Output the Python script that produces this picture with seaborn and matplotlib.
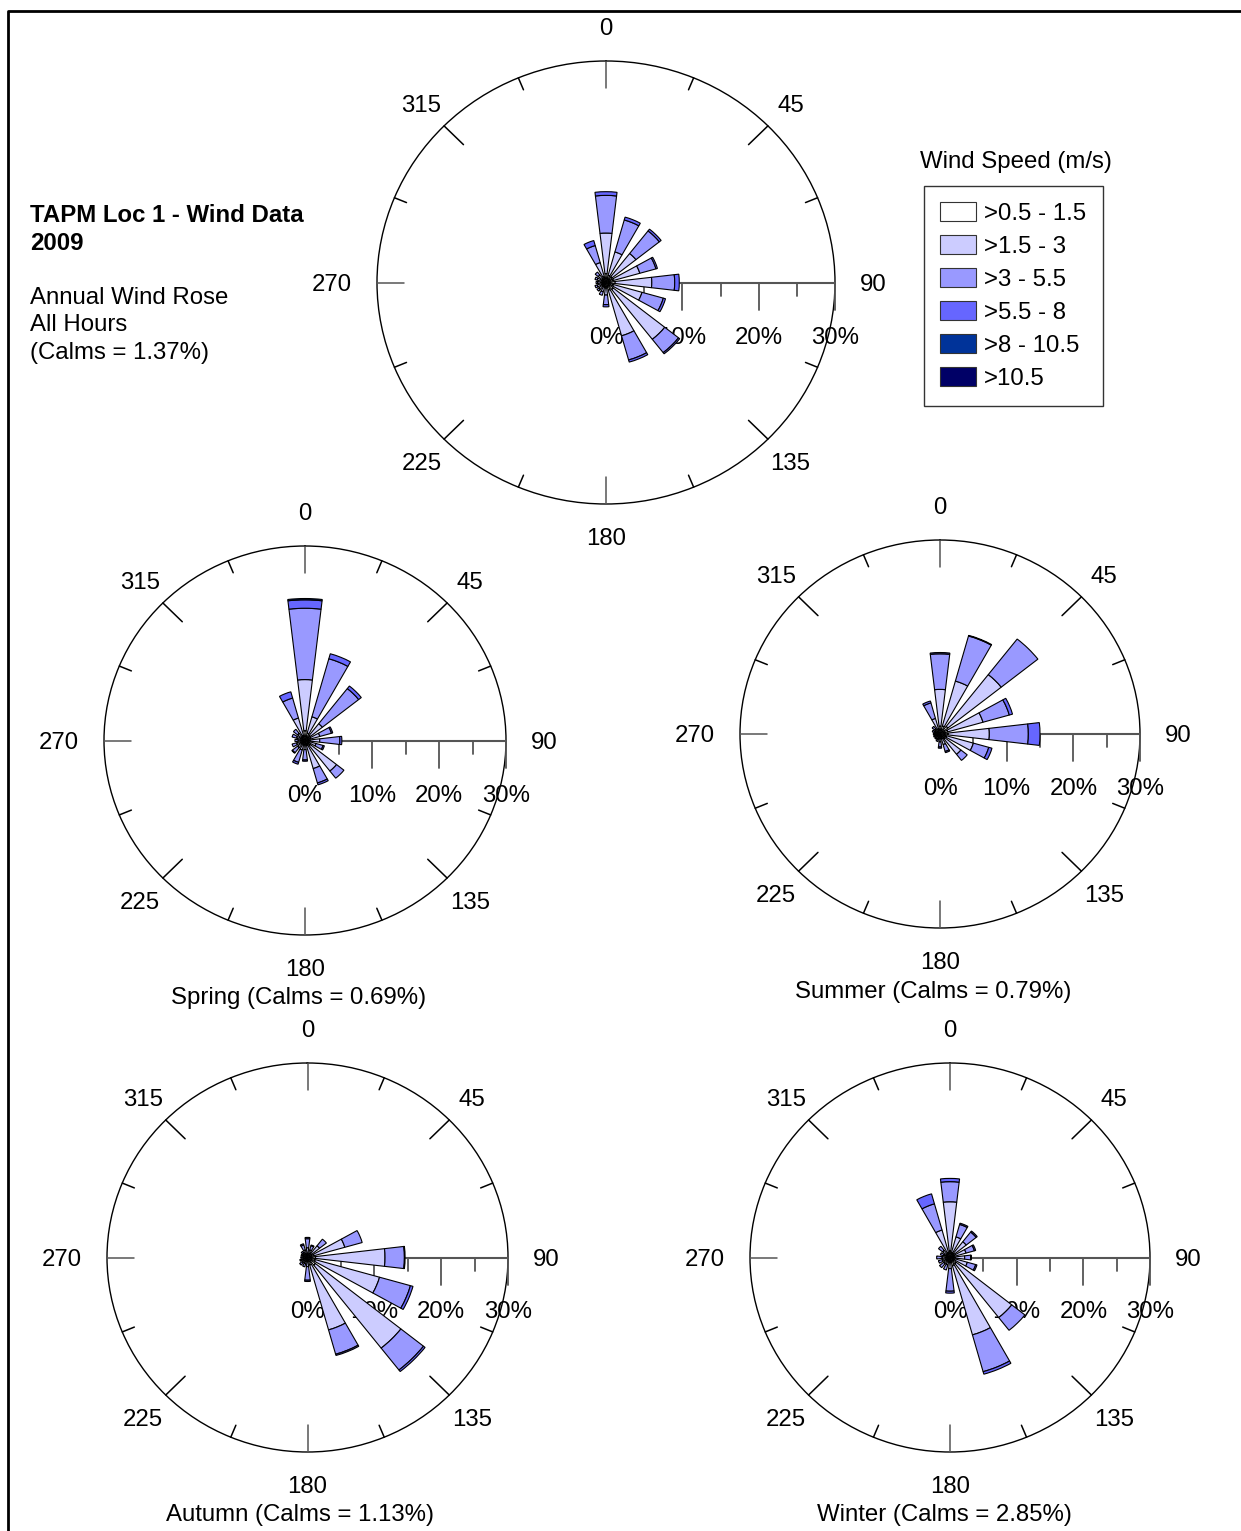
import numpy as np
import matplotlib
matplotlib.use("Agg")
import matplotlib.pyplot as plt
import seaborn as sns
from matplotlib.patches import Patch
from matplotlib.lines import Line2D

sns.set_theme(style="white")
plt.rcParams["font.family"] = ["Liberation Sans", "DejaVu Sans"]
plt.rcParams["text.color"] = "black"

W, H, DPI = 1241, 1531, 100
FS = 17.3

# ---------------- data ----------------
directions = [0, 22.5, 45, 67.5, 90, 112.5, 135, 157.5,
              180, 202.5, 225, 247.5, 270, 292.5, 315, 337.5]
speed_labels = [">0.5 - 1.5", ">1.5 - 3", ">3 - 5.5", ">5.5 - 8", ">8 - 10.5", ">10.5"]
speed_colors = ["#FFFFFF", "#CCCCFF", "#9999FF", "#6666FF", "#003399", "#000066"]
dir_labels = ["0", "45", "90", "135", "180", "225", "270", "315"]
scale_ticks = [0, 10, 20, 30]

# frequency (%) per direction, columns = speed classes
annual = [
    [1.2, 5.5, 5.1, 0.5, 0, 0],
    [1.0, 3.3, 4.5, 0.4, 0, 0],
    [1.0, 4.0, 3.9, 0.3, 0, 0],
    [1.0, 3.6, 2.2, 0.2, 0, 0],
    [1.2, 4.8, 3.0, 0.6, 0, 0],
    [1.0, 3.9, 2.9, 0.3, 0, 0],
    [1.2, 8.6, 2.3, 0.2, 0, 0],
    [1.1, 6.4, 3.4, 0.3, 0, 0],
    [0.7, 1.0, 1.3, 0.3, 0, 0],
    [0.6, 0.7, 0.5, 0.0, 0, 0],
    [0.6, 0.6, 0.3, 0.0, 0, 0],
    [0.6, 0.6, 0.3, 0.0, 0, 0],
    [0.6, 0.5, 0.2, 0.0, 0, 0],
    [0.6, 0.6, 0.3, 0.0, 0, 0],
    [0.6, 0.7, 0.5, 0.0, 0, 0],
    [0.8, 2.0, 2.4, 0.7, 0, 0],
]
spring = [
    [1.5, 7.9, 11.0, 1.3, 0.2, 0],
    [1.2, 2.6, 9.3, 0.8, 0, 0],
    [1.0, 2.3, 6.9, 0.5, 0, 0],
    [0.8, 1.5, 1.8, 0.2, 0, 0],
    [0.8, 1.4, 3.0, 0.3, 0, 0],
    [0.7, 1.0, 1.1, 0.2, 0, 0],
    [1.0, 5.0, 1.4, 0.0, 0, 0],
    [0.8, 3.7, 2.3, 0.3, 0, 0],
    [0.6, 0.8, 1.6, 0.2, 0, 0],
    [0.6, 0.9, 2.0, 0.3, 0, 0],
    [0.6, 0.8, 1.0, 0.1, 0, 0],
    [0.6, 0.7, 0.7, 0.0, 0, 0],
    [0.5, 0.5, 0.5, 0.0, 0, 0],
    [0.6, 0.7, 0.7, 0.0, 0, 0],
    [0.6, 0.8, 0.8, 0.0, 0, 0],
    [0.8, 2.8, 3.2, 1.0, 0, 0],
]
summer = [
    [1.2, 5.7, 5.5, 0.2, 0, 0],
    [1.3, 7.2, 7.25, 0.1, 0, 0],
    [1.5, 10.2, 7.0, 0.0, 0, 0],
    [1.2, 5.5, 4.1, 0.5, 0, 0],
    [1.2, 6.2, 5.85, 1.75, 0, 0],
    [1.0, 4.2, 2.4, 0.5, 0, 0],
    [0.9, 3.1, 1.2, 0.0, 0, 0],
    [0.7, 1.0, 1.1, 0.2, 0, 0],
    [0.6, 0.6, 0.8, 0.2, 0, 0],
    [0.5, 0.4, 0.3, 0.0, 0, 0],
    [0.5, 0.3, 0.2, 0.0, 0, 0],
    [0.5, 0.3, 0.2, 0.0, 0, 0],
    [0.5, 0.3, 0.2, 0.0, 0, 0],
    [0.5, 0.4, 0.3, 0.0, 0, 0],
    [0.5, 0.5, 0.5, 0.0, 0, 0],
    [0.8, 1.7, 2.5, 0.3, 0, 0],
]
autumn = [
    [0.6, 0.9, 1.4, 0.2, 0, 0],
    [0.6, 0.6, 0.7, 0.1, 0, 0],
    [0.7, 1.6, 1.3, 0.0, 0, 0],
    [1.0, 4.8, 2.7, 0.0, 0, 0],
    [1.2, 10.4, 2.9, 0.1, 0, 0],
    [1.2, 10.0, 4.8, 0.4, 0, 0],
    [1.5, 16.3, 4.3, 0.3, 0, 0],
    [1.2, 10.4, 3.9, 0.2, 0, 0],
    [0.6, 0.8, 2.1, 0.2, 0, 0],
    [0.5, 0.5, 0.5, 0.0, 0, 0],
    [0.5, 0.5, 0.5, 0.0, 0, 0],
    [0.5, 0.4, 0.3, 0.0, 0, 0],
    [0.5, 0.3, 0.2, 0.0, 0, 0],
    [0.5, 0.3, 0.2, 0.0, 0, 0],
    [0.5, 0.4, 0.3, 0.0, 0, 0],
    [0.5, 0.7, 0.8, 0.2, 0, 0],
]
winter = [
    [1.0, 7.6, 3.1, 0.5, 0, 0],
    [0.8, 2.5, 2.0, 0.2, 0, 0],
    [0.8, 2.3, 1.9, 0.2, 0, 0],
    [0.7, 1.8, 1.3, 0.2, 0, 0],
    [0.7, 1.5, 0.9, 0.1, 0, 0],
    [0.7, 2.0, 1.3, 0.2, 0, 0],
    [1.2, 10.6, 2.5, 0.0, 0, 0],
    [1.3, 11.1, 5.9, 0.4, 0, 0],
    [0.7, 1.0, 3.5, 0.3, 0, 0],
    [0.6, 0.6, 0.8, 0.0, 0, 0],
    [0.6, 0.6, 0.8, 0.0, 0, 0],
    [0.6, 0.6, 0.6, 0.0, 0, 0],
    [0.6, 0.6, 0.8, 0.0, 0, 0],
    [0.5, 0.5, 0.5, 0.0, 0, 0],
    [0.6, 0.8, 0.8, 0.0, 0, 0],
    [0.8, 3.6, 4.2, 1.6, 0, 0],
]

fig = plt.figure(figsize=(W / DPI, H / DPI), dpi=DPI)
fig.patch.set_facecolor("white")

RMAX = 30.0


def draw_rose(box, data):
    left, top, width, height = box
    ax = fig.add_axes([left / W, 1 - (top + height) / H, width / W, height / H],
                      projection="polar")
    ax.set_aspect("auto")
    ax.set_theta_zero_location("N")
    ax.set_theta_direction(-1)
    ax.set_ylim(0, RMAX)
    ax.grid(False)
    ax.set_xticks([])
    ax.set_yticks([])
    ax.set_facecolor("none")
    ax.spines["polar"].set_color("black")
    ax.spines["polar"].set_linewidth(1.0)
    rx = width / 2.0
    ry = height / 2.0

    theta = np.deg2rad(directions)
    arr = np.array(data, dtype=float)
    bottom = np.zeros(len(directions))
    for k in range(arr.shape[1]):
        vals = arr[:, k]
        m = vals > 0
        if m.any():
            ax.bar(theta[m], vals[m], width=np.deg2rad(13.5), bottom=bottom[m],
                   color=speed_colors[k], edgecolor="black", linewidth=0.8,
                   zorder=4, align="center")
        bottom += vals

    # outer circle ticks
    for d in directions:
        long = (d % 45 == 0)
        L = 27 if long else 13
        t = np.deg2rad(d)
        pxr = np.hypot(rx * np.sin(t), ry * np.cos(t))
        dr = L / pxr * RMAX
        col = "#555555" if d % 90 == 0 else "black"
        ax.plot([t, t], [RMAX - dr, RMAX], color=col, lw=1.1, zorder=3,
                clip_on=False)

    # radial scale along east
    ax.plot([np.pi / 2, np.pi / 2], [0, RMAX], color="#555555", lw=1.5, zorder=3,
            clip_on=False)
    for v in range(5, 31, 5):
        L = 27 if v % 10 == 0 else 13
        Ld = L / ry * RMAX
        t2 = np.arctan2(v, -Ld)
        r2 = np.hypot(v, Ld)
        ax.plot([np.pi / 2, t2], [v, r2], color="#555555", lw=1.3, zorder=3,
                clip_on=False)
    for v in scale_ticks:
        ax.annotate(f"{v}%", xy=(np.pi / 2, v), xytext=(0, -55),
                    textcoords="offset pixels", ha="center", va="center",
                    fontsize=FS, zorder=2, annotation_clip=False)

    # direction labels
    for i, lab in enumerate(dir_labels):
        d = i * 45
        t = np.deg2rad(d)
        if d == 0:
            off, ha, va = (0, 26), "center", "baseline"
        elif d == 180:
            off, ha, va = (0, -41), "center", "baseline"
        elif d == 90:
            off, ha, va = (25, 0), "left", "center_baseline"
        elif d == 270:
            off, ha, va = (-25, 0), "right", "center_baseline"
        else:
            off = (32 * np.sin(t), 32 * np.cos(t))
            ha, va = "center", "center_baseline"
        ax.annotate(lab, xy=(t, RMAX), xytext=off, textcoords="offset pixels",
                    ha=ha, va=va, fontsize=FS, annotation_clip=False, zorder=2)
    return ax


# boxes: left, top, width, height (pixels)
draw_rose((377, 61, 458, 443), annual)
draw_rose((104, 546, 402, 389), spring)
draw_rose((740, 540, 400, 388), summer)
draw_rose((107, 1063, 401, 389), autumn)
draw_rose((750, 1063, 400, 389), winter)


def ftext(x, y, s, **kw):
    fig.text(x / W, 1 - y / H, s, fontsize=FS, **kw)


ftext(30, 222, "TAPM Loc 1 - Wind Data", fontweight="bold", va="baseline")
ftext(30, 250, "2009", fontweight="bold", va="baseline")
ftext(30, 304, "Annual Wind Rose", va="baseline")
ftext(30, 331, "All Hours", va="baseline")
ftext(30, 359, "(Calms = 1.37%)", va="baseline")

ftext(299, 998, "Spring (Calms = 0.69%)", ha="center", va="center")
ftext(933, 992, "Summer (Calms = 0.79%)", ha="center", va="center")
ftext(300, 1515, "Autumn (Calms = 1.13%)", ha="center", va="center")
ftext(944, 1515, "Winter (Calms = 2.85%)", ha="center", va="center")

# legend
ftext(1016, 162, "Wind Speed (m/s)", ha="center", va="center")
handles = [Patch(facecolor=c, edgecolor="#333333", linewidth=0.8, label=l)
           for c, l in zip(speed_colors, speed_labels)]
leg = fig.legend(handles=handles, loc="upper left",
                 bbox_to_anchor=(924 / W, 1 - 186 / H), frameon=True,
                 fancybox=False, edgecolor="black", fontsize=FS,
                 handlelength=1.5, handleheight=0.82, handletextpad=0.33,
                 labelspacing=0.43, borderpad=0.68, borderaxespad=0)
leg.get_frame().set_linewidth(1.0)

# outer frame
fig.add_artist(Line2D([8 / W, 8 / W, 1.0], [0, 1 - 11 / H, 1 - 11 / H],
                      transform=fig.transFigure, color="black", lw=2.0))

fig.savefig("out.png", dpi=DPI, facecolor="white")
